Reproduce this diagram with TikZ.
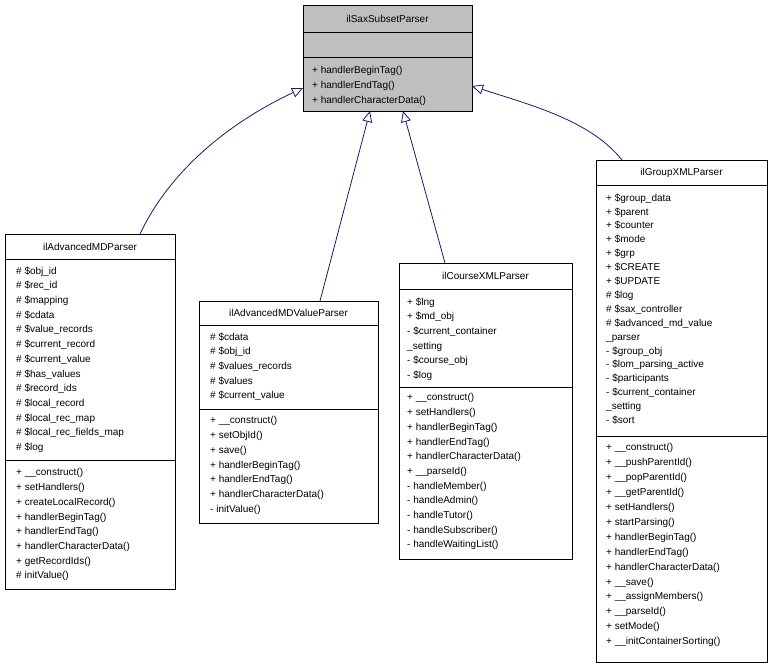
\documentclass[tikz,border=0pt]{standalone}
\usepackage{fontspec}
\setmainfont{Liberation Sans}
\usetikzlibrary{arrows.meta}
\definecolor{edge}{HTML}{191970}
\tikzset{
 box/.style={draw=black,fill=white,anchor=north west,inner sep=0,line width=0.8pt},
 txt/.style={anchor=north west,align=left,inner sep=0,font=\fontsize{10}{14.7}\selectfont},
 txta/.style={txt,font=\fontsize{10}{13.9}\selectfont},
 txtb/.style={txt,font=\fontsize{10}{14.9}\selectfont},
 ttl/.style={anchor=center,inner sep=0,font=\fontsize{10}{12}\selectfont},
 inh/.style={draw=edge,line width=0.8pt,-{Triangle[open,length=11pt,width=10pt]}}
}
\newcommand{\umlbox}[9]{%
 \node[box,minimum width=#4pt,minimum height=#5pt] (#1) at (#2,#3) {};
 \draw[line width=0.8pt] (#2,#7) -- ++(#4,0);
 \draw[line width=0.8pt] (#2,#8) -- ++(#4,0);
 \node[ttl] (#1t) at ({#2+#4/2},{(#3+#7)/2}) {#6};
 #9}
\begin{document}
\begin{tikzpicture}[x=1pt,y=-1pt]
\useasboundingbox (0,0) rectangle (773,668);
% top
\node[box,fill=gray!50,minimum width=169pt,minimum height=106pt] (top) at (303,5) {};
\draw[line width=0.8pt] (303,32) -- ++(169,0);
\draw[line width=0.8pt] (303,57) -- ++(169,0);
\node[ttl] (topt) at (387.5,18.5) {ilSaxSubsetParser};
\node[txt] (topm) at (312,66.5) {+ handlerBeginTag()\\+ handlerEndTag()\\+ handlerCharacterData()};
% adv
\umlbox{adv}{5}{234}{170}{355}{ilAdvancedMDParser}{259}{460}{
\node[txt] (adva) at (16,266.5) {\# \$obj\_id\\\# \$rec\_id\\\# \$mapping\\\# \$cdata\\\# \$value\_records\\\# \$current\_record\\\# \$current\_value\\\# \$has\_values\\\# \$record\_ids\\\# \$local\_record\\\# \$local\_rec\_map\\\# \$local\_rec\_fields\_map\\\# \$log};
\node[txt] (advm) at (16,468.5) {+ \_\_construct()\\+ setHandlers()\\+ createLocalRecord()\\+ handlerBeginTag()\\+ handlerEndTag()\\+ handlerCharacterData()\\+ getRecordIds()\\\# initValue()};}
% value
\umlbox{val}{199}{301}{179}{222}{ilAdvancedMDValueParser}{325}{409}{
\node[txt] (vala) at (210,332.5) {\# \$cdata\\\# \$obj\_id\\\# \$values\_records\\\# \$values\\\# \$current\_value};
\node[txt] (valm) at (210,416.5) {+ \_\_construct()\\+ setObjId()\\+ save()\\+ handlerBeginTag()\\+ handlerEndTag()\\+ handlerCharacterData()\\- initValue()};}
% course
\umlbox{crs}{399}{263}{173}{296}{ilCourseXMLParser}{289}{387}{
\node[txt] (crsa) at (407,297.5) {+ \$lng\\+ \$md\_obj\\- \$current\_container\\\_setting\\- \$course\_obj\\- \$log};
\node[txt] (crsm) at (407,393.5) {+ \_\_construct()\\+ setHandlers()\\+ handlerBeginTag()\\+ handlerEndTag()\\+ handlerCharacterData()\\+ \_\_parseId()\\- handleMember()\\- handleAdmin()\\- handleTutor()\\- handleSubscriber()\\- handleWaitingList()};}
% group
\umlbox{grp}{596}{160}{171}{502}{ilGroupXMLParser}{185}{436}{
\node[txta] (grpa) at (606,193.5) {+ \$group\_data\\+ \$parent\\+ \$counter\\+ \$mode\\+ \$grp\\+ \$CREATE\\+ \$UPDATE\\\# \$log\\\# \$sax\_controller\\\# \$advanced\_md\_value\\\_parser\\- \$group\_obj\\- \$lom\_parsing\_active\\- \$participants\\- \$current\_container\\\_setting\\- \$sort};
\node[txtb] (grpm) at (606,443.5) {+ \_\_construct()\\+ \_\_pushParentId()\\+ \_\_popParentId()\\+ \_\_getParentId()\\+ setHandlers()\\+ startParsing()\\+ handlerBeginTag()\\+ handlerEndTag()\\+ handlerCharacterData()\\+ \_\_save()\\+ \_\_assignMembers()\\+ \_\_parseId()\\+ setMode()\\+ \_\_initContainerSorting()};}
% edges
\draw[inh] (140,234) .. controls (175,160) and (245,115) .. (303,88);
\draw[inh] (320,301) -- (370,111);
\draw[inh] (445,263) -- (403,111);
\draw[inh] (622,160) .. controls (590,120) and (530,105) .. (472,86);
\end{tikzpicture}
\end{document}
